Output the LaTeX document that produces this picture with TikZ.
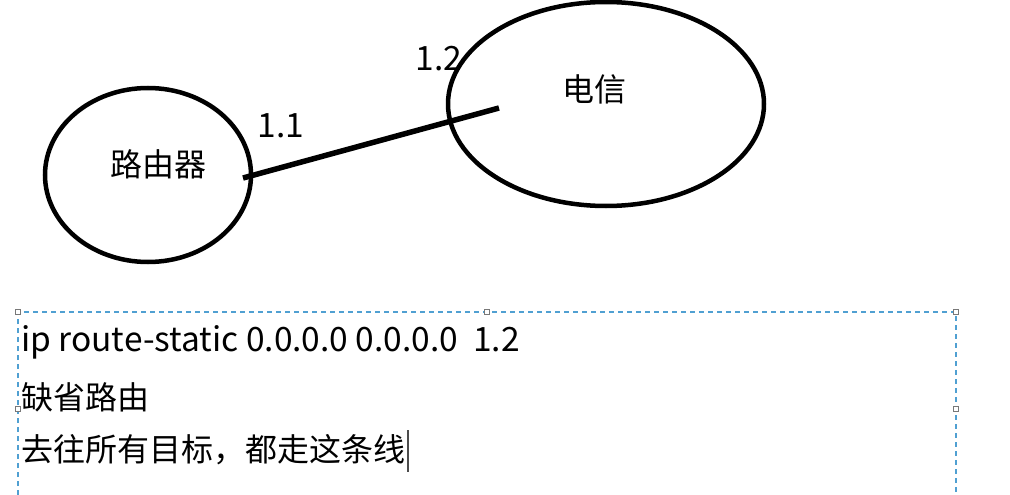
\documentclass[tikz,border=0pt]{standalone}
\usepackage{fontspec}
\setmainfont{Noto Sans CJK SC}
\usetikzlibrary{shapes.geometric}
\definecolor{selblue}{RGB}{80,160,210}
\definecolor{handlegray}{RGB}{120,120,120}
\tikzset{
  bubble/.style={draw=black, line width=4.5pt, ellipse, inner sep=0pt},
  lbl/.style={inner sep=0pt, font=\fontsize{32}{38}\selectfont},
  num/.style={inner sep=0pt, font=\fontsize{33.5}{40}\selectfont},
  txt/.style={inner sep=0pt, anchor=west, font=\fontsize{32}{38}\selectfont},
  ltxt/.style={inner sep=0pt, anchor=west, font=\fontsize{33.5}{40}\selectfont},
  link/.style={draw=black, line width=5.5pt},
  selbox/.style={draw=selblue, line width=1.2pt, dash pattern=on 5pt off 4pt},
  handle/.style={draw=handlegray, fill=white, line width=1pt, minimum size=5pt, inner sep=0pt, rectangle}
}
\begin{document}
\begin{tikzpicture}[x=1pt, y=-1pt]
\useasboundingbox (0,0) rectangle (1010,495);
% ellipses
\node[bubble, minimum width=206pt, minimum height=174pt] (router) at (148,175) {};
\node[bubble, minimum width=316pt, minimum height=204pt] (isp) at (606,104) {};
\node[lbl] (routerlbl) at (158,164) {路由器};
\node[lbl] (isplbl) at (594,89) {电信};
\node[num] (l11) at (281,126) {1.1};
\node[num] (l12) at (439,59) {1.2};
% link
\coordinate (la) at (243,178);
\coordinate (lb) at (499,108);
\draw[link] (la) -- (lb);
% selection box
\coordinate (b1) at (18,495);
\coordinate (b2) at (18,312);
\coordinate (b3) at (956,312);
\coordinate (b4) at (956,495);
\draw[selbox] (b1) -- (b2) -- (b3) -- (b4);
\node[handle] (h1) at (18,312) {};
\node[handle] (h2) at (487,312) {};
\node[handle] (h3) at (956,312) {};
\node[handle] (h4) at (18,409) {};
\node[handle] (h5) at (956,409) {};
% text
\node[ltxt] (t1) at (21,342) {ip route-static 0.0.0.0 0.0.0.0\ \ 1.2};
\node[txt] (t2) at (21,397) {缺省路由};
\node[txt] (t3) at (21,450) {去往所有目标，都走这条线};
\coordinate (c1) at (408,430);
\coordinate (c2) at (408,472);
\draw[black!70, line width=1.2pt] (c1) -- (c2);
\end{tikzpicture}
\end{document}
